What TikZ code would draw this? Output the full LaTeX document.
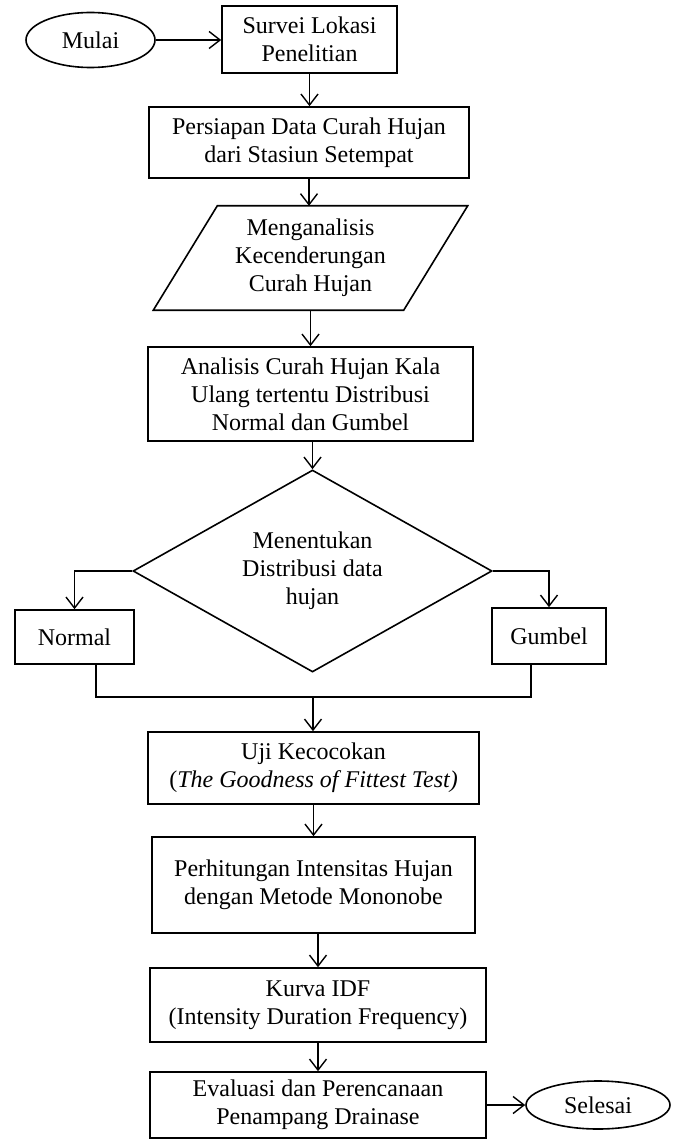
\documentclass[tikz,border=0pt]{standalone}
\usepackage{fontspec}
\setmainfont{Liberation Serif}
\usetikzlibrary{arrows.meta,shapes.geometric}
\begin{document}
\begin{tikzpicture}[x=1pt,y=-1pt,
  txt/.style={inner sep=0pt,align=center,font=\fontsize{24}{28}\selectfont},
  box/.style={txt,draw,line width=1.6pt,rectangle},
  term/.style={txt,draw,line width=1.6pt,ellipse},
  line/.style={line width=1.6pt},
  arr/.style={line,-{Straight Barb[length=11pt,width=17pt,line width=1.4pt]}}
]
\useasboundingbox (0,0) rectangle (686,1139);

\node[term,minimum width=129pt,minimum height=55pt] (mulai) at (90.5,40) {Mulai};
\node[box,minimum width=175pt,minimum height=67pt] (survei) at (309.5,39.5) {Survei Lokasi\\Penelitian};
\node[box,minimum width=320pt,minimum height=71pt] (persiapan) at (309,142.5) {Persiapan Data Curah Hujan\\dari Stasiun Setempat};
\node[txt,minimum width=250pt,minimum height=104pt] (par) at (310.5,258) {Menganalisis\\Kecenderungan\\Curah Hujan};
\draw[line] ([xshift=32pt]par.north west) -- ([xshift=32pt]par.north east)
  -- ([xshift=-32pt]par.south east) -- ([xshift=-32pt]par.south west) -- cycle;
\node[box,minimum width=325pt,minimum height=94pt] (analisis) at (310.5,394) {Analisis Curah Hujan Kala\\Ulang tertentu Distribusi\\Normal dan Gumbel};
\node[txt,draw,line width=1.6pt,diamond,aspect=1.78,minimum width=359pt,minimum height=202pt] (dia) at (312.5,571) {Menentukan\\Distribusi data\\hujan};
\node[box,minimum width=119pt,minimum height=54pt] (normal) at (74.5,637) {Normal};
\node[box,minimum width=114pt,minimum height=56pt] (gumbel) at (549,636) {Gumbel};
\node[box,minimum width=331pt,minimum height=72pt] (uji) at (313.5,768) {Uji Kecocokan\\(\textit{The Goodness of Fittest Test)}};
\node[box,minimum width=323pt,minimum height=96pt] (perh) at (313.5,885) {Perhitungan Intensitas Hujan\\dengan Metode Mononobe};
\node[box,minimum width=336pt,minimum height=74pt] (kurva) at (318,1005) {Kurva IDF\\(Intensity Duration Frequency)};
\node[box,minimum width=336pt,minimum height=66pt] (eval) at (318,1105) {Evaluasi dan Perencanaan\\Penampang Drainase};
\node[term,minimum width=144pt,minimum height=48pt] (selesai) at (598,1105) {Selesai};

\draw[arr] (mulai.east) -- (mulai.east -| survei.west);
\draw[arr] (survei.south) -- (survei.south |- persiapan.north);
\draw[arr] (persiapan.south) -- (persiapan.south |- par.north);
\draw[arr] (par.south) -- (par.south |- analisis.north);
\draw[arr] (analisis.south -| dia.north) -- (dia.north);
\draw[arr] (dia.west) -| (normal.north);
\draw[arr] (dia.east) -| (gumbel.north);
\coordinate (join) at (313,697);
\draw[line] ([xshift=21.5pt]normal.south) |- (join) -| ([xshift=-18pt]gumbel.south);
\draw[arr] (join) -- (join |- uji.north);
\draw[arr] (uji.south) -- (uji.south |- perh.north);
\draw[arr] (kurva.north |- perh.south) -- (kurva.north);
\draw[arr] (kurva.south) -- (kurva.south |- eval.north);
\draw[arr] (eval.east |- selesai.west) -- (selesai.west);
\end{tikzpicture}
\end{document}
